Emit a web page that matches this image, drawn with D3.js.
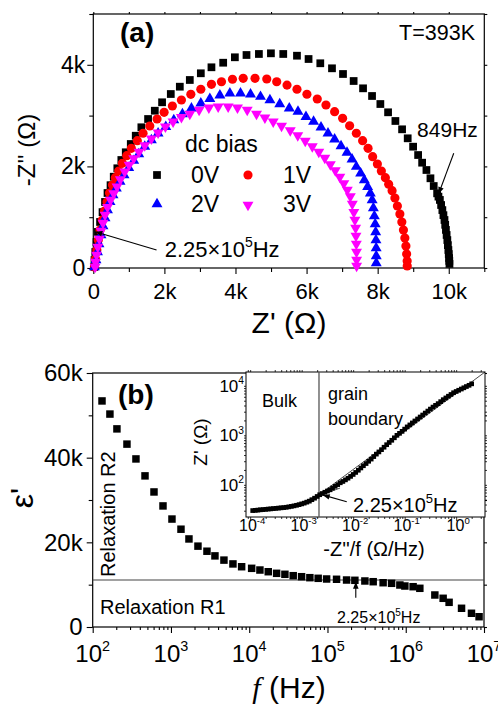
<!DOCTYPE html>
<html>
<head>
<meta charset="utf-8">
<script src="https://cdn.jsdelivr.net/npm/d3@7/dist/d3.min.js"></script>
<style>
body { margin: 0; background: #fff; }
text { font-family: "Liberation Sans", Arial, sans-serif; fill: #000; }
</style>
</head>
<body>
<div id="chart-area"></div>
<script>
// ---------- panel (a): Cole-Cole plots, [Z', -Z''] in ohm ----------
var biasNames = ["0V", "1V", "2V", "3V"];
var biasColors = ["#000000", "#ff0000", "#0000ff", "#ff00ff"];

var bias0V = [[30,20],[34,157],[56,315],[90,510],[130,710],[190,906],[260,1100],[330,1300],[400,1476],[485,1630],
  [575,1797],[676,1963],[789,2126],[913,2278],[1054,2441],[1194,2604],[1352,2770],[1541,2933],[1730,3096],[1935,3262],
  [2180,3425],[2434,3569],[2715,3701],[3025,3833],[3324,3951],[3654,4041],[3983,4148],[4310,4193],[4659,4213],[4997,4226],
  [5344,4213],[5730,4179],[6056,4114],[6386,4030],[6715,3931],[7025,3819],[7324,3681],[7589,3537],[7842,3386],[8076,3228],
  [8293,3065],[8499,2894],[8687,2730],[8845,2553],[8997,2388],[9138,2224],[9251,2073],[9372,1929],[9485,1766],[9577,1614],
  [9673,1470],[9710,1405],[9750,1340],[9785,1240],[9820,1140],[9850,1040],[9880,945],[9900,850],[9920,750],[9940,650],
  [9960,550],[9975,450],[9990,354],[10000,275],[10010,197],[10015,140],[10020,80]];

var bias1V = [[30,20],[62,177],[100,354],[140,551],[190,748],[254,945],[316,1122],[386,1300],[456,1476],[540,1634],
  [620,1778],[715,1909],[817,2061],[941,2211],[1070,2356],[1239,2506],[1400,2652],[1589,2795],[1794,2933],[1992,3065],
  [2225,3189],[2479,3307],[2744,3419],[3025,3518],[3324,3616],[3606,3667],[3915,3715],[4217,3734],[4550,3734],[4880,3720],
  [5160,3667],[5450,3600],[5730,3518],[6010,3420],[6301,3327],[6546,3209],[6789,3077],[7014,2947],[7211,2801],[7400,2652],
  [7577,2506],[7730,2356],[7859,2191],[7992,2047],[8104,1909],[8217,1778],[8310,1648],[8406,1522],[8485,1378],[8555,1220],
  [8625,1063],[8680,906],[8725,748],[8765,590],[8795,433],[8815,276],[8830,138],[8832,40]];

var bias2V = [[30,20],[76,157],[118,315],[160,472],[217,650],[273,827],[330,984],[400,1142],[470,1300],[555,1437],
  [648,1569],[752,1699],[865,1831],[997,1974],[1138,2112],[1279,2244],[1448,2388],[1634,2520],[1823,2652],[2039,2781],
  [2265,2913],[2507,3031],[2761,3144],[3025,3242],[3279,3330],[3561,3400],[3842,3439],[4141,3439],[4423,3419],[4704,3372],
  [4969,3307],[5245,3228],[5513,3144],[5758,3077],[5983,2978],[6197,2880],[6406,2770],[6603,2652],[6789,2533],[6969,2402],
  [7138,2270],[7279,2140],[7400,1994],[7521,1864],[7625,1732],[7718,1600],[7794,1470],[7845,1339],[7879,1181],[7907,1024],
  [7930,866],[7944,709],[7952,551],[7958,394],[7960,236],[7960,98]];

var bias3V = [[50,20],[62,118],[90,256],[127,413],[170,571],[217,728],[273,886],[330,1043],[400,1200],[485,1339],
  [575,1470],[668,1600],[761,1746],[885,1896],[1006,2028],[1138,2159],[1287,2283],[1448,2415],[1634,2545],[1823,2663],
  [2028,2781],[2245,2880],[2479,2967],[2715,3031],[2977,3110],[3251,3156],[3513,3175],[3794,3175],[4056,3156],[4330,3110],
  [4592,3031],[4828,2959],[5062,2880],[5296,2795],[5541,2707],[5752,2608],[5963,2500],[6161,2392],[6344,2283],[6513,2165],
  [6668,2037],[6808,1919],[6935,1791],[7048,1663],[7146,1535],[7231,1407],[7287,1260],[7330,1100],[7360,945],[7380,787],
  [7390,630],[7400,472],[7405,315],[7408,157],[7408,40]];

var xTicksA = [0, 2000, 4000, 6000, 8000, 10000];
var xMinorA = [1000, 3000, 5000, 7000, 9000, 11000];
var yTicksA = [0, 2000, 4000];
var yMinorA = [1000, 3000, 5000];

// ---------- panel (b): permittivity vs frequency ----------
var freqB = [131.5, 166, 204, 274, 357, 466, 607, 791, 1030, 1343, 1698, 2213, 2884, 3648, 4753, 6194, 8000,
  10740, 13700, 17500, 22390, 28580, 36480, 46670, 59570, 76030, 97500, 130600, 175400, 223900, 300600, 383700,
  514000, 659200, 841400, 975000, 1.242e6, 1.514e6, 2.355e6, 3.006e6, 3.581e6, 5.164e6, 6.918e6, 8.65e6];
var epsB = [53400, 50300, 46800, 43200, 39700, 35700, 31900, 28600, 25500, 23100, 20800, 19100, 17900, 16800, 15800, 14900, 14240,
  13860, 13460, 13060, 12680, 12450, 12120, 11880, 11650, 11500, 11340, 11270, 11100, 11030, 10870, 10700,
  10460, 10320, 9920, 9680, 9520, 9140, 7560, 6780, 5830, 4420, 3240, 2430];
var xTicksB = [1e2, 1e3, 1e4, 1e5, 1e6, 1e7];
var yTicksB = [0, 20000, 40000, 60000];
var yMinorB = [10000, 30000, 50000];
var boundaryEps = 11100;

// ---------- inset: Z' vs -Z''/f ----------
var zfInset = [1.12e-4, 1.26e-4, 1.41e-4, 1.58e-4, 1.78e-4, 2.0e-4, 2.24e-4, 2.51e-4, 2.82e-4, 3.16e-4,
  3.55e-4, 3.98e-4, 4.47e-4, 5.01e-4, 5.62e-4, 6.31e-4, 7.08e-4, 7.94e-4, 8.91e-4, 1.0e-3,
  1.12e-3, 1.26e-3, 1.41e-3, 1.58e-3, 1.78e-3, 2.0e-3, 2.24e-3, 2.51e-3, 2.82e-3, 3.16e-3,
  3.55e-3, 3.98e-3, 4.47e-3, 5.01e-3, 5.62e-3, 6.31e-3, 7.08e-3, 7.94e-3, 8.91e-3, 0.01,
  0.0112, 0.0126, 0.0141, 0.0158, 0.0178, 0.02, 0.0224, 0.0251, 0.0282, 0.0316,
  0.0355, 0.0398, 0.0447, 0.0501, 0.0562, 0.0631, 0.0708, 0.0794, 0.0891, 0.1,
  0.112, 0.126, 0.141, 0.158, 0.178, 0.2, 0.224, 0.251, 0.282, 0.316,
  0.355, 0.398, 0.447, 0.501, 0.562, 0.631, 0.708, 0.794, 0.891, 1.0,
  1.12, 1.26, 1.41, 1.58, 1.78, 2.0];
var zreInset = [30.2, 30.5, 30.9, 31.3, 31.6, 32.0, 32.4, 32.7, 33.1, 33.5,
  33.9, 34.3, 34.7, 35.2, 35.9, 36.7, 37.6, 38.6, 39.8, 41.2,
  42.7, 44.7, 46.8, 50.1, 53.7, 58.2, 63.1, 66.8, 70.8, 75.0,
  79.4, 86.1, 93.3, 101, 110, 117, 126, 136, 148, 162,
  178, 197, 219, 243, 269, 299, 331, 372, 417, 462,
  513, 575, 646, 716, 794, 891, 1000, 1096, 1202, 1334,
  1479, 1622, 1778, 1950, 2138, 2344, 2570, 2818, 3090, 3388,
  3715, 4027, 4365, 4786, 5248, 5689, 6166, 6683, 7244, 7674,
  8128, 8610, 9120, 9661, 10230, 10960];
var xTicksI = [1e-4, 1e-3, 1e-2, 1e-1, 1e0];
var yTicksI = [1e2, 1e3, 1e4];
var bulkEdge = 2.17e-3;

var svg = d3.select("#chart-area").append("svg")
    .attr("width", 498)
    .attr("height", 705);

var defs = svg.append("defs");
defs.append("marker")
    .attr("id", "arrow")
    .attr("viewBox", "0 0 10 10")
    .attr("refX", 9).attr("refY", 5)
    .attr("markerWidth", 9).attr("markerHeight", 7)
    .attr("markerUnits", "userSpaceOnUse")
    .attr("orient", "auto")
    .append("path").attr("d", "M0,1 L10,5 L0,9 Z").attr("fill", "#000");

function kFmt(d) { return d === 0 ? "0" : (d / 1000) + "k"; }

function minorLog(lo, hi) {
    var out = [];
    for (var e = Math.floor(Math.log10(lo)); e <= Math.ceil(Math.log10(hi)); e++) {
        for (var m = 2; m <= 9; m++) {
            var v = m * Math.pow(10, e);
            if (v > lo && v < hi) out.push(v);
        }
    }
    return out;
}

function cleanAxis(g) {
    g.select(".domain").remove();
    g.selectAll("line").attr("stroke", "#000").attr("stroke-width", 1.1);
    g.attr("font-family", null).attr("font-size", null);
}

function powLabel(g, x, y, v, size, anchor) {
    var t = g.append("text")
        .attr("x", x).attr("y", y)
        .attr("text-anchor", anchor)
        .attr("font-size", size);
    t.append("tspan").text("10");
    t.append("tspan")
        .attr("dy", -0.45 * size)
        .attr("font-size", 0.6 * size)
        .text(Math.round(Math.log10(v)));
}

// ================= PANEL (a) =================
var xA = d3.scaleLinear().domain([0, 11000]).range([93.3, 484.3]);
var yA = d3.scaleLinear().domain([0, 5000]).range([268, 14]);

var gA = svg.append("g");

// bottom
gA.append("g").attr("transform", "translate(0,268)")
    .call(d3.axisBottom(xA).tickValues(xMinorA).tickSize(4).tickFormat(""))
    .call(cleanAxis);
gA.append("g").attr("transform", "translate(0,268)")
    .call(d3.axisBottom(xA).tickValues(xTicksA).tickSize(6).tickPadding(9).tickFormat(kFmt))
    .call(cleanAxis)
    .selectAll("text").attr("font-size", 22);
// top
gA.append("g").attr("transform", "translate(0,14)")
    .call(d3.axisTop(xA).tickValues(xTicksA.concat(xMinorA.slice(0, 5))).tickSize(2).tickFormat(""))
    .call(cleanAxis);
// left
gA.append("g").attr("transform", "translate(93.3,0)")
    .call(d3.axisLeft(yA).tickValues(yMinorA).tickSize(4).tickFormat(""))
    .call(cleanAxis);
gA.append("g").attr("transform", "translate(93.3,0)")
    .call(d3.axisLeft(yA).tickValues(yTicksA).tickSize(6).tickPadding(2).tickFormat(kFmt))
    .call(cleanAxis)
    .selectAll("text").attr("font-size", 23);
// right
gA.append("g").attr("transform", "translate(484.3,0)")
    .call(d3.axisRight(yA).tickValues(yTicksA.concat(yMinorA)).tickSize(3).tickFormat(""))
    .call(cleanAxis);

gA.append("rect")
    .attr("x", 93.3).attr("y", 14)
    .attr("width", 391).attr("height", 254)
    .attr("fill", "none").attr("stroke", "#000").attr("stroke-width", 1.2);

var seriesA = [bias0V, bias1V, bias2V, bias3V];
var symA = [
    d3.symbol().type(d3.symbolSquare).size(60),
    d3.symbol().type(d3.symbolCircle).size(66),
    d3.symbol().type(d3.symbolTriangle).size(52),
    d3.symbol().type(d3.symbolTriangle).size(52)
];

seriesA.forEach(function (data, i) {
    gA.append("g").selectAll("path")
        .data(data)
        .enter().append("path")
        .attr("d", symA[i])
        .attr("fill", biasColors[i])
        .attr("transform", function (d) {
            return "translate(" + xA(d[0]) + "," + yA(d[1]) + ")" + (i === 3 ? " rotate(180)" : "");
        });
});

// legend
var legendPos = [[157, 175, 191, 183], [248, 175, 283, 183], [157, 204, 191, 212], [248, 205, 283, 212]];
gA.append("text").attr("x", 185).attr("y", 152).attr("font-size", 23).text("dc bias");
biasNames.forEach(function (name, i) {
    var p = legendPos[i];
    gA.append("path")
        .attr("d", symA[i])
        .attr("fill", biasColors[i])
        .attr("transform", "translate(" + p[0] + "," + p[1] + ")" + (i === 3 ? " rotate(180)" : ""));
    gA.append("text").attr("x", p[2]).attr("y", p[3]).attr("font-size", 23).text(name);
});

gA.append("text").attr("x", 120).attr("y", 42)
    .attr("font-size", 28).attr("font-weight", "bold").text("(a)");
gA.append("text").attr("x", 475).attr("y", 40)
    .attr("font-size", 21.5).attr("text-anchor", "end").text("T=393K");

// 849Hz annotation
gA.append("line")
    .attr("x1", xA(10140)).attr("y1", yA(2260))
    .attr("x2", xA(9720)).attr("y2", yA(1470))
    .attr("stroke", "#000").attr("stroke-width", 1.1)
    .attr("marker-end", "url(#arrow)");
gA.append("text").attr("x", xA(9110)).attr("y", yA(2585))
    .attr("font-size", 21).text("849Hz");

// 2.25e5 Hz annotation
gA.append("line")
    .attr("x1", xA(1780)).attr("y1", yA(354))
    .attr("x2", xA(76)).attr("y2", yA(710))
    .attr("stroke", "#000").attr("stroke-width", 1.1)
    .attr("marker-end", "url(#arrow)");
var tA = gA.append("text").attr("x", xA(2010)).attr("y", yA(217)).attr("font-size", 22);
tA.append("tspan").text("2.25\u00d710");
tA.append("tspan").attr("dy", -10).attr("font-size", 14).text("5");
tA.append("tspan").attr("dy", 10).text("Hz");

// axis titles
gA.append("text")
    .attr("transform", "translate(35,150) rotate(-90)")
    .attr("text-anchor", "middle").attr("font-size", 24)
    .text("-Z'' (\u03a9)");
gA.append("text")
    .attr("x", 289).attr("y", 333)
    .attr("text-anchor", "middle").attr("font-size", 30)
    .text("Z' (\u03a9)");

// ================= PANEL (b) =================
var xB = d3.scaleLog().domain([1e2, 1e7]).range([92.7, 484]);
var yB = d3.scaleLinear().domain([0, 60000]).range([627, 373]);

var gB = svg.append("g");

gB.append("g").attr("transform", "translate(0,627)")
    .call(d3.axisBottom(xB).tickValues(minorLog(1e2, 1e7)).tickSize(3).tickFormat(""))
    .call(cleanAxis);
gB.append("g").attr("transform", "translate(0,627)")
    .call(d3.axisBottom(xB).tickValues(xTicksB).tickSize(6).tickFormat(""))
    .call(cleanAxis);
xTicksB.forEach(function (v) { powLabel(gB, xB(v), 662, v, 24, "middle"); });

gB.append("g").attr("transform", "translate(92.7,0)")
    .call(d3.axisLeft(yB).tickValues(yMinorB).tickSize(4).tickFormat(""))
    .call(cleanAxis);
gB.append("g").attr("transform", "translate(92.7,0)")
    .call(d3.axisLeft(yB).tickValues(yTicksB).tickSize(6).tickPadding(4).tickFormat(kFmt))
    .call(cleanAxis)
    .selectAll("text").attr("font-size", 24);
gB.append("g").attr("transform", "translate(484,0)")
    .call(d3.axisRight(yB).tickValues(yTicksB.concat(yMinorB)).tickSize(3).tickFormat(""))
    .call(cleanAxis);

gB.append("rect")
    .attr("x", 92.7).attr("y", 373)
    .attr("width", 391.3).attr("height", 254)
    .attr("fill", "none").attr("stroke", "#000").attr("stroke-width", 1.2);

// boundary between the two relaxations
gB.append("line")
    .attr("x1", 92.7).attr("x2", 484)
    .attr("y1", yB(boundaryEps)).attr("y2", yB(boundaryEps))
    .attr("stroke", "#444").attr("stroke-width", 1.2);

var symB = d3.symbol().type(d3.symbolSquare).size(56);
gB.append("g").selectAll("path")
    .data(freqB)
    .enter().append("path")
    .attr("d", symB)
    .attr("fill", "#000")
    .attr("transform", function (d, i) {
        return "translate(" + xB(d) + "," + yB(epsB[i]) + ")";
    });

gB.append("text").attr("x", 118).attr("y", 404)
    .attr("font-size", 28).attr("font-weight", "bold").text("(b)");
gB.append("text").attr("x", 100).attr("y", 614)
    .attr("font-size", 20).text("Relaxation R1");
gB.append("text")
    .attr("transform", "translate(115,577) rotate(-90)")
    .attr("font-size", 20).text("Relaxation R2");

// 2.25e5 Hz arrow
gB.append("line")
    .attr("x1", xB(2.3e5)).attr("y1", yB(6900))
    .attr("x2", xB(2.3e5)).attr("y2", yB(10500))
    .attr("stroke", "#000").attr("stroke-width", 1.1)
    .attr("marker-end", "url(#arrow)");
var tB = gB.append("text").attr("x", 337).attr("y", 623).attr("font-size", 16);
tB.append("tspan").text("2.25\u00d710");
tB.append("tspan").attr("dy", -7).attr("font-size", 10).text("5");
tB.append("tspan").attr("dy", 7).text("Hz");

gB.append("text")
    .attr("transform", "translate(33,498) rotate(-90)")
    .attr("text-anchor", "middle").attr("font-size", 32)
    .text("\u03b5'");
var tf = gB.append("text").attr("x", 289).attr("y", 698)
    .attr("text-anchor", "middle").attr("font-size", 30);
tf.append("tspan").attr("font-family", "'Liberation Serif', serif").attr("font-style", "italic").text("f");
tf.append("tspan").text(" (Hz)");

// ================= INSET =================
var xI = d3.scaleLog().domain([8.3e-5, 3.63]).range([246, 485]);
var yI = d3.scaleLog().domain([22.4, 19000]).range([517, 372]);

var gI = svg.append("g");
gI.append("rect")
    .attr("x", 246).attr("y", 372)
    .attr("width", 239).attr("height", 145)
    .attr("fill", "#fff").attr("stroke", "#000").attr("stroke-width", 1);

gI.append("g").attr("transform", "translate(0,517)")
    .call(d3.axisBottom(xI).tickValues(minorLog(8.3e-5, 3.63)).tickSize(2).tickFormat(""))
    .call(cleanAxis);
gI.append("g").attr("transform", "translate(0,517)")
    .call(d3.axisBottom(xI).tickValues(xTicksI).tickSize(4).tickFormat(""))
    .call(cleanAxis);
gI.append("g").attr("transform", "translate(0,372)")
    .call(d3.axisTop(xI).tickValues(minorLog(8.3e-5, 3.63).concat(xTicksI)).tickSize(2).tickFormat(""))
    .call(cleanAxis);
gI.append("g").attr("transform", "translate(246,0)")
    .call(d3.axisLeft(yI).tickValues(minorLog(22.4, 19000).concat(yTicksI)).tickSize(2).tickFormat(""))
    .call(cleanAxis);
gI.append("g").attr("transform", "translate(485,0)")
    .call(d3.axisRight(yI).tickValues(minorLog(22.4, 19000).concat(yTicksI)).tickSize(2).tickFormat(""))
    .call(cleanAxis);
gI.selectAll("line").attr("stroke-width", 0.8);

xTicksI.forEach(function (v) { powLabel(gI, xI(v) + 2, 531, v, 16, "middle"); });
yTicksI.forEach(function (v) { powLabel(gI, 244, yI(v) + 6, v, 17, "end"); });

// bulk / grain boundary divider
gI.append("line")
    .attr("x1", xI(bulkEdge)).attr("x2", xI(bulkEdge))
    .attr("y1", 372).attr("y2", 517)
    .attr("stroke", "#555").attr("stroke-width", 1.3);

// tangent guides
gI.append("line")
    .attr("x1", xI(1.02e-3)).attr("y1", yI(45))
    .attr("x2", xI(5.56e-3)).attr("y2", yI(86))
    .attr("stroke", "#000").attr("stroke-width", 0.7);
gI.append("line")
    .attr("x1", xI(bulkEdge)).attr("y1", yI(63))
    .attr("x2", 485).attr("y2", 372)
    .attr("stroke", "#000").attr("stroke-width", 0.7);

var symI = d3.symbol().type(d3.symbolSquare).size(22);
gI.append("g").selectAll("path")
    .data(zfInset)
    .enter().append("path")
    .attr("d", symI)
    .attr("fill", "#000")
    .attr("transform", function (d, i) {
        return "translate(" + xI(d) + "," + yI(zreInset[i]) + ")";
    });

gI.append("text").attr("x", 262).attr("y", 407).attr("font-size", 18).text("Bulk");
gI.append("text").attr("x", 328).attr("y", 400).attr("font-size", 18).text("grain");
gI.append("text").attr("x", 328).attr("y", 425).attr("font-size", 18).text("boundary");

gI.append("line")
    .attr("x1", xI(7.5e-3)).attr("y1", yI(45.6))
    .attr("x2", xI(2.64e-3)).attr("y2", yI(62))
    .attr("stroke", "#000").attr("stroke-width", 1.1)
    .attr("marker-end", "url(#arrow)");
var tI = gI.append("text").attr("x", 353).attr("y", 512).attr("font-size", 20);
tI.append("tspan").text("2.25\u00d710");
tI.append("tspan").attr("dy", -9).attr("font-size", 13).text("5");
tI.append("tspan").attr("dy", 9).text("Hz");

gI.append("text")
    .attr("transform", "translate(207,442) rotate(-90)")
    .attr("text-anchor", "middle").attr("font-size", 19)
    .text("Z' (\u03a9)");
gI.append("text").attr("x", 374).attr("y", 556)
    .attr("text-anchor", "middle").attr("font-size", 20)
    .text("-Z''/f (\u03a9/Hz)");
</script>
</body>
</html>
